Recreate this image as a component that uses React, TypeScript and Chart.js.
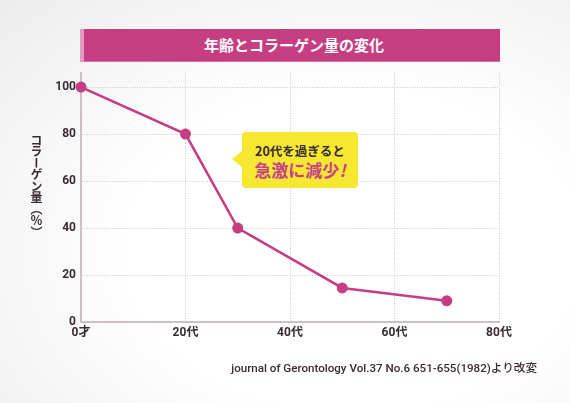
import { useEffect, useRef } from 'react';
import Chart from 'chart.js/auto';

const ages = [0, 20, 30, 50, 70];
const collagen = [100, 80, 40, 14.5, 9];
const xTicks = [0, 20, 40, 60, 80];
const xTickLabels = ['0才', '20代', '40代', '60代', '80代'];
const yTicks = [0, 20, 40, 60, 80, 100];

const pink = '#c63d84';
const ink = '#3a2a33';
const tickFont = { family: "Roboto, 'Noto Sans CJK JP', sans-serif", size: 12, weight: 'bold' as const };

export default function App() {
    const canvasRef = useRef<HTMLCanvasElement>(null);
    const chartRef = useRef<Chart | null>(null);

    useEffect(() => {
        if (!canvasRef.current) return;
        if (chartRef.current) chartRef.current.destroy();
        const ctx = canvasRef.current.getContext('2d');
        if (!ctx) return;

        chartRef.current = new Chart(ctx, {
            type: 'line',
            data: {
                datasets: [
                    {
                        data: ages.map((a, i) => ({ x: a, y: collagen[i] })),
                        borderColor: pink,
                        backgroundColor: pink,
                        borderWidth: 2.5,
                        pointRadius: 5.5,
                        pointBorderWidth: 0,
                        pointBackgroundColor: pink,
                        tension: 0,
                        clip: false
                    }
                ]
            },
            options: {
                animation: false,
                responsive: false,
                maintainAspectRatio: false,
                layout: { padding: { left: 0, top: 73, right: 71, bottom: 0 } },
                plugins: {
                    legend: { display: false },
                    tooltip: { enabled: false }
                },
                scales: {
                    x: {
                        type: 'linear',
                        min: 0,
                        max: 80,
                        afterBuildTicks: (scale: any) => {
                            scale.ticks = xTicks.map((v) => ({ value: v }));
                        },
                        afterFit: (scale: any) => {
                            scale.height = 81;
                        },
                        ticks: {
                            color: ink,
                            font: tickFont,
                            padding: 4,
                            maxRotation: 0,
                            callback: (v: any) => xTickLabels[xTicks.indexOf(Number(v))] ?? ''
                        },
                        grid: { color: '#c9c9c9', lineWidth: 1, drawTicks: false },
                        border: { display: true, color: '#cdbfc6', width: 2, dash: [1, 1.5] }
                    },
                    y: {
                        type: 'linear',
                        min: 0,
                        max: 106,
                        afterBuildTicks: (scale: any) => {
                            scale.ticks = yTicks.map((v) => ({ value: v }));
                        },
                        afterFit: (scale: any) => {
                            scale.width = 81;
                        },
                        ticks: {
                            color: ink,
                            font: tickFont,
                            padding: 5
                        },
                        grid: { color: '#c9c9c9', lineWidth: 1, drawTicks: false },
                        border: { display: true, color: '#cdbfc6', width: 2, dash: [1, 1.5] }
                    }
                }
            }
        });

        return () => {
            if (chartRef.current) {
                chartRef.current.destroy();
                chartRef.current = null;
            }
        };
    }, []);

    return (
        <div
            style={{
                position: 'fixed',
                left: 0,
                top: 0,
                width: 570,
                height: 403,
                overflow: 'hidden',
                background: 'radial-gradient(ellipse at 62% 62%, #ffffff 45%, #ececec 100%)',
                fontFamily: "Roboto, 'Noto Sans CJK JP', sans-serif"
            }}
        >
            <canvas
                ref={canvasRef}
                width={570}
                height={403}
                style={{ position: 'absolute', left: 0, top: 0, width: '570px', height: '403px' }}
            />
            {/* title bar */}
            <div style={{ position: 'absolute', left: 80, top: 29, width: 4, height: 33, background: '#e29ac0' }} />
            <div
                style={{
                    position: 'absolute',
                    left: 84,
                    top: 29,
                    width: 416,
                    height: 33,
                    background: '#c63e82',
                    borderBottom: '1px solid #d66fa4',
                    boxSizing: 'border-box',
                    color: '#ffffff',
                    fontFamily: "'Noto Sans CJK JP', sans-serif",
                    fontWeight: 'bold',
                    fontSize: 15,
                    lineHeight: '32px',
                    textAlign: 'center',
                    paddingLeft: 4
                }}
            >
                年齢とコラーゲン量の変化
            </div>
            {/* y axis title */}
            <div
                style={{
                    position: 'absolute',
                    left: 28,
                    top: 134,
                    writingMode: 'vertical-rl',
                    fontFamily: "'Noto Sans CJK JP', sans-serif",
                    fontWeight: 'bold',
                    fontSize: 12,
                    color: ink,
                    lineHeight: '17px',
                    letterSpacing: -0.5
                }}
            >
                コラーゲン量（％）
            </div>
            {/* callout */}
            <div
                style={{
                    position: 'absolute',
                    left: 232,
                    top: 150,
                    width: 0,
                    height: 0,
                    borderTop: '9px solid transparent',
                    borderBottom: '9px solid transparent',
                    borderRight: '11px solid #f6e731'
                }}
            />
            <div
                style={{
                    position: 'absolute',
                    left: 242,
                    top: 132,
                    width: 116,
                    height: 56,
                    background: '#f6e731',
                    borderRadius: 4,
                    fontFamily: "'Noto Sans CJK JP', sans-serif",
                    fontWeight: 'bold',
                    textAlign: 'center'
                }}
            >
                <div style={{ fontSize: 12.5, color: ink, lineHeight: '16px', marginTop: 11 }}>20代を過ぎると</div>
                <div style={{ fontSize: 17, color: '#c9418a', lineHeight: '22px', marginTop: 0 }}>
                    急激に減少<span style={{ fontStyle: 'italic' }}>!</span>
                </div>
            </div>
            {/* source */}
            <div
                style={{
                    position: 'absolute',
                    right: 33,
                    top: 360,
                    fontSize: 11.6,
                    color: ink,
                    whiteSpace: 'nowrap',
                    lineHeight: '16px',
                    fontWeight: 500
                }}
            >
                journal of Gerontology Vol.37 No.6 651-655(1982)より改変
            </div>
        </div>
    );
}
